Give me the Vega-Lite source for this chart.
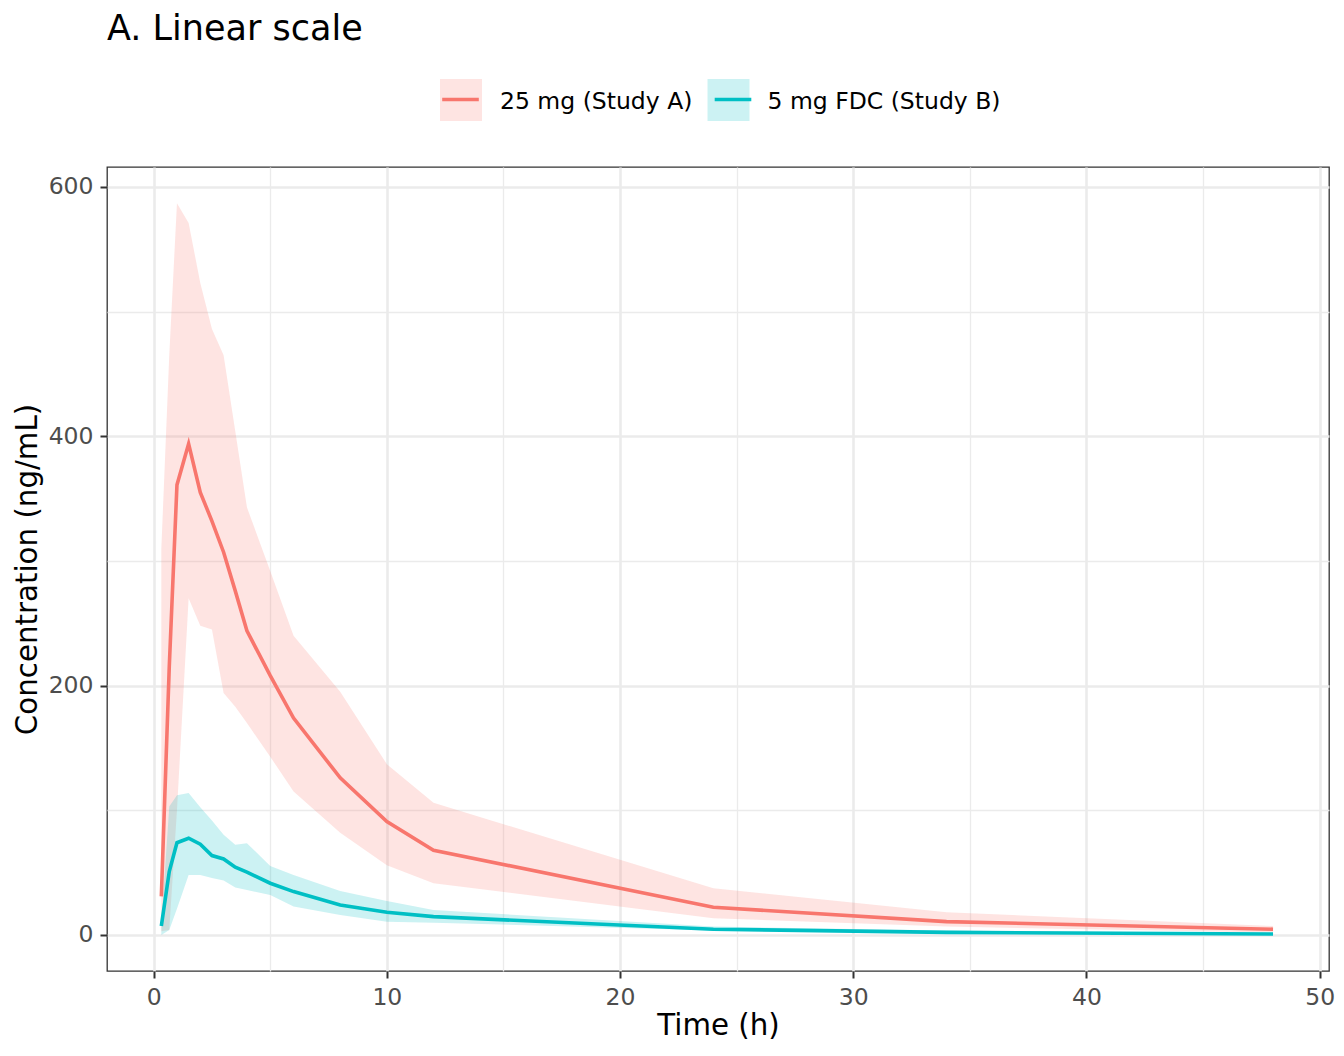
{
  "$schema": "https://vega.github.io/schema/vega-lite/v6.json",
  "width": 1222,
  "height": 804,
  "autosize": {"type": "none"},
  "padding": {"left": 107, "top": 167, "right": 15, "bottom": 85},
  "background": "white",
  "title": {"text": "A. Linear scale", "anchor": "start", "frame": "group", "fontSize": 35, "fontWeight": "normal", "color": "black", "font": "DejaVu Sans", "baseline": "alphabetic", "offset": 4},
  "config": {
    "font": "DejaVu Sans",
    "view": {"stroke": "#333333", "strokeWidth": 1.3},
    "axis": {"domain": false, "labelFontSize": 23.5, "labelColor": "#4D4D4D", "titleFontSize": 29.3, "titleColor": "black", "titleFontWeight": "normal", "tickColor": "#333333", "tickSize": 7, "tickWidth": 2, "labelPadding": 7, "gridColor": "#EBEBEB", "labelOverlap": false, "labelFlush": false}
  },
  "data": {"values": [
    {"time": 0.33, "group": "25 mg (Study A)", "mean": 31, "lo": 3, "hi": 310},
    {"time": 0.67, "group": "25 mg (Study A)", "mean": 215, "lo": 4, "hi": 465},
    {"time": 1, "group": "25 mg (Study A)", "mean": 361, "lo": 100, "hi": 587},
    {"time": 1.5, "group": "25 mg (Study A)", "mean": 394, "lo": 270, "hi": 571},
    {"time": 2, "group": "25 mg (Study A)", "mean": 355, "lo": 248, "hi": 523},
    {"time": 2.5, "group": "25 mg (Study A)", "mean": 332, "lo": 245, "hi": 486},
    {"time": 3, "group": "25 mg (Study A)", "mean": 307, "lo": 194, "hi": 465},
    {"time": 3.5, "group": "25 mg (Study A)", "mean": 276, "lo": 183, "hi": 404},
    {"time": 4, "group": "25 mg (Study A)", "mean": 244, "lo": 170, "hi": 343},
    {"time": 5, "group": "25 mg (Study A)", "mean": 208, "lo": 143, "hi": 292},
    {"time": 6, "group": "25 mg (Study A)", "mean": 174, "lo": 115, "hi": 240},
    {"time": 8, "group": "25 mg (Study A)", "mean": 126, "lo": 82, "hi": 195},
    {"time": 10, "group": "25 mg (Study A)", "mean": 91, "lo": 56, "hi": 137},
    {"time": 12, "group": "25 mg (Study A)", "mean": 68, "lo": 41.5, "hi": 106},
    {"time": 24, "group": "25 mg (Study A)", "mean": 22.2, "lo": 13.4, "hi": 37.5},
    {"time": 34, "group": "25 mg (Study A)", "mean": 10.7, "lo": 6.7, "hi": 18.2},
    {"time": 48, "group": "25 mg (Study A)", "mean": 4.6, "lo": 1.9, "hi": 7.2},
    {"time": 0.33, "group": "5 mg FDC (Study B)", "mean": 7.2, "lo": 0, "hi": 9},
    {"time": 0.67, "group": "5 mg FDC (Study B)", "mean": 50.9, "lo": 4, "hi": 103},
    {"time": 1, "group": "5 mg FDC (Study B)", "mean": 74, "lo": 21, "hi": 112},
    {"time": 1.5, "group": "5 mg FDC (Study B)", "mean": 77.6, "lo": 48.2, "hi": 113.8},
    {"time": 2, "group": "5 mg FDC (Study B)", "mean": 72.8, "lo": 48.2, "hi": 102.5},
    {"time": 2.5, "group": "5 mg FDC (Study B)", "mean": 63.7, "lo": 45.6, "hi": 91.8},
    {"time": 3, "group": "5 mg FDC (Study B)", "mean": 61, "lo": 43.6, "hi": 80.3},
    {"time": 3.5, "group": "5 mg FDC (Study B)", "mean": 54.3, "lo": 38, "hi": 72.3},
    {"time": 4, "group": "5 mg FDC (Study B)", "mean": 50.4, "lo": 36.1, "hi": 73.6},
    {"time": 5, "group": "5 mg FDC (Study B)", "mean": 41.5, "lo": 32.1, "hi": 55.4},
    {"time": 6, "group": "5 mg FDC (Study B)", "mean": 34.8, "lo": 22.8, "hi": 48.2},
    {"time": 8, "group": "5 mg FDC (Study B)", "mean": 24.1, "lo": 16.1, "hi": 35.3},
    {"time": 10, "group": "5 mg FDC (Study B)", "mean": 18.2, "lo": 10.7, "hi": 27.3},
    {"time": 12, "group": "5 mg FDC (Study B)", "mean": 14.7, "lo": 9.9, "hi": 20},
    {"time": 24, "group": "5 mg FDC (Study B)", "mean": 4.6, "lo": 3.5, "hi": 6.7},
    {"time": 34, "group": "5 mg FDC (Study B)", "mean": 2.1, "lo": 1.2, "hi": 3.5},
    {"time": 48, "group": "5 mg FDC (Study B)", "mean": 0.8, "lo": 0.4, "hi": 1.5}
  ]},
  "encoding": {
    "x": {"field": "time", "type": "quantitative", "title": "Time (h)",
      "scale": {"domain": [-2.0, 50.4], "nice": false, "zero": false},
      "axis": {"values": [0, 5, 10, 15, 20, 25, 30, 35, 40, 45, 50],
        "labelExpr": "datum.value % 10 === 0 ? datum.label : ''",
        "tickOpacity": {"condition": {"test": "datum.value % 10 === 0", "value": 1}, "value": 0},
        "gridWidth": {"condition": {"test": "datum.value % 10 === 0", "value": 2.6}, "value": 1.3},
        "titlePadding": 3}}
  },
  "layer": [
    {
      "mark": {"type": "area", "fillOpacity": 0.2, "strokeWidth": 0},
      "encoding": {
        "y": {"field": "lo", "type": "quantitative", "title": "Concentration (ng/mL)",
          "scale": {"domain": [-28.9, 616], "nice": false, "zero": false},
          "axis": {"values": [0, 100, 200, 300, 400, 500, 600],
            "labelExpr": "datum.value % 200 === 0 ? datum.label : ''",
            "tickOpacity": {"condition": {"test": "datum.value % 200 === 0", "value": 1}, "value": 0},
            "gridWidth": {"condition": {"test": "datum.value % 200 === 0", "value": 2.6}, "value": 1.3},
            "titlePadding": 5.5}},
        "y2": {"field": "hi"},
        "fill": {"field": "group", "type": "nominal",
          "scale": {"domain": ["25 mg (Study A)", "5 mg FDC (Study B)"], "range": ["#F8766D", "#00BFC4"]},
          "legend": {"orient": "none", "legendX": 333, "legendY": -88, "direction": "horizontal", "title": null,
            "symbolType": "square", "symbolSize": 1764, "symbolOpacity": 0.2, "symbolStrokeWidth": 0,
            "labelFontSize": 23.5, "labelColor": "black", "labelLimit": 500, "labelOffset": 18, "columnPadding": 14.5, "padding": 0,
            "encode": {"labels": {"update": {"dy": {"value": 2}}}}}}
      }
    },
    {
      "mark": {"type": "line", "strokeWidth": 3.6},
      "encoding": {
        "y": {"field": "mean", "type": "quantitative"},
        "stroke": {"field": "group", "type": "nominal",
          "scale": {"range": ["#F8766D", "#00BFC4"]},
          "legend": {"orient": "none", "legendX": 333, "legendY": -88, "direction": "horizontal", "title": null,
            "symbolType": "stroke", "symbolSize": 1764, "symbolStrokeWidth": 3.6, "symbolOpacity": 1,
            "labelFontSize": 23.5, "labelColor": "black", "labelOpacity": 0, "labelLimit": 500, "labelOffset": 18, "columnPadding": 14.5, "padding": 0,
            "encode": {"symbols": {"update": {"size": {"value": 1340}}}, "labels": {"update": {"dy": {"value": 2}}}}}}
      }
    }
  ]
}
